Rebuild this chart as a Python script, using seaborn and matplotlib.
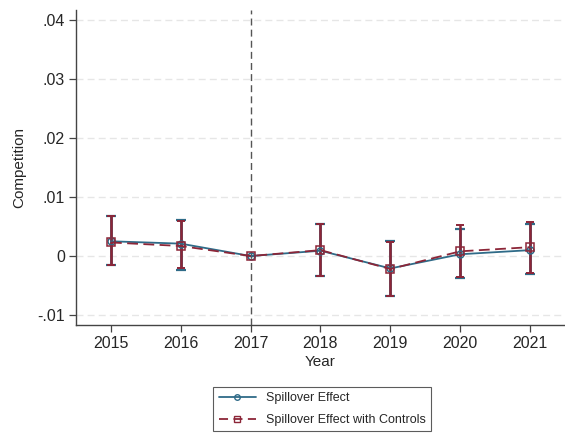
import matplotlib
matplotlib.use("Agg")
import matplotlib.pyplot as plt
from matplotlib.lines import Line2D
import numpy as np
import pandas as pd
import seaborn as sns

# Event-study estimates by year
years = [2015, 2016, 2017, 2018, 2019, 2020, 2021]

spill = [0.0025, 0.0021, 0.0, 0.0009, -0.0021, 0.0003, 0.0010]
spill_lo = [-0.0016, -0.0023, 0.0, -0.0034, -0.0067, -0.0038, -0.0031]
spill_hi = [0.0068, 0.0061, 0.0, 0.0054, 0.0025, 0.0046, 0.0054]

ctrl = [0.0023, 0.0017, 0.0, 0.0010, -0.0022, 0.0008, 0.0015]
ctrl_lo = [-0.0016, -0.0021, 0.0, -0.0034, -0.0067, -0.0035, -0.0028]
ctrl_hi = [0.0067, 0.0060, 0.0, 0.0054, 0.0024, 0.0052, 0.0058]

ytick_vals = [-0.01, 0, 0.01, 0.02, 0.03, 0.04]
ytick_labels = ["-.01", "0", ".01", ".02", ".03", ".04"]

blue = "#2f6b88"
red = "#8c2638"

sns.set_theme(style="white")
plt.rcParams["font.family"] = ["Liberation Sans", "DejaVu Sans"]

df = pd.DataFrame({
    "Year": years * 2,
    "coef": spill + ctrl,
    "series": ["Spillover Effect"] * 7 + ["Spillover Effect with Controls"] * 7,
})

fig = plt.figure(figsize=(5.65, 4.34), dpi=100)
ax = fig.add_axes([0.1345, 0.251, 0.8655, 0.726])

# reference lines
for yv in ytick_vals:
    ax.axhline(yv, color="#e6e6e6", lw=1.0, ls=(0, (5, 3)), zorder=0)
ax.axvline(2017, color="#555555", lw=1.0, ls=(0, (5, 3)), zorder=1)

# confidence intervals
ax.errorbar(years, spill, yerr=[np.array(spill) - np.array(spill_lo), np.array(spill_hi) - np.array(spill)],
            fmt="none", ecolor=blue, elinewidth=2.0, capsize=3.5, capthick=1.6, zorder=2)
ax.errorbar(years, ctrl, yerr=[np.array(ctrl) - np.array(ctrl_lo), np.array(ctrl_hi) - np.array(ctrl)],
            fmt="none", ecolor=red, elinewidth=1.8, capsize=3.0, capthick=1.4, zorder=3)

# point estimates
sns.lineplot(data=df[df.series == "Spillover Effect"], x="Year", y="coef", ax=ax,
             color=blue, lw=1.3, marker="o", markersize=5, markerfacecolor="none",
             markeredgecolor=blue, markeredgewidth=1.1, zorder=4, legend=False)
sns.lineplot(data=df[df.series == "Spillover Effect with Controls"], x="Year", y="coef", ax=ax,
             color=red, lw=1.3, marker="s", markersize=5.5, markerfacecolor="none",
             markeredgecolor=red, markeredgewidth=1.1, zorder=5, legend=False)
ax.lines[-1].set_dashes((6, 3))

ax.set_xlim(2014.5, 2021.5)
ax.set_ylim(-0.0117, 0.0417)
ax.set_xticks(years)
ax.set_xticklabels([str(y) for y in years], fontsize=11.5)
ax.set_yticks(ytick_vals)
ax.set_yticklabels(ytick_labels, fontsize=11.5)
ax.set_xlabel("Year", fontsize=11, labelpad=3)
ax.set_ylabel("Competition", fontsize=11, labelpad=8)
ax.tick_params(axis="both", which="both", length=5, width=0.9, color="#444444",
               direction="out", bottom=True, left=True, pad=3)

for side in ["top", "right"]:
    ax.spines[side].set_visible(False)
for side in ["left", "bottom"]:
    ax.spines[side].set_color("#444444")
    ax.spines[side].set_linewidth(1.0)

handles = [
    Line2D([], [], color=blue, lw=1.3, marker="o", markersize=4, markerfacecolor="none",
           markeredgecolor=blue, markeredgewidth=1.0),
    Line2D([], [], color=red, lw=1.3, ls=(0, (5, 3)), marker="s", markersize=4.5,
           markerfacecolor="none", markeredgecolor=red, markeredgewidth=1.0),
]
leg = fig.legend(handles, ["Spillover Effect", "Spillover Effect with Controls"],
                 loc="upper center", bbox_to_anchor=(0.57, 0.108), fontsize=9,
                 frameon=True, fancybox=False, edgecolor="#333333", handlelength=3.0,
                 borderpad=0.42, labelspacing=0.76, handletextpad=0.75, borderaxespad=0)
leg.get_frame().set_linewidth(0.8)

fig.savefig("out.png", dpi=100)
